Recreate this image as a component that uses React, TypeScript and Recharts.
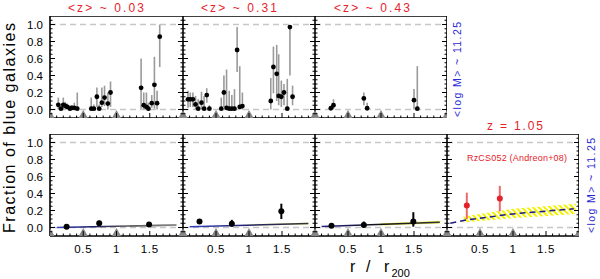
import React from 'react';
import { ComposedChart, XAxis, YAxis, Scatter, ErrorBar, Line, Area, ReferenceLine } from 'recharts';

// ---- values ----
// top row: <z> ~ 0.03
const r003 = [0.125, 0.165, 0.2, 0.23, 0.26, 0.3, 0.33, 0.365, 0.41, 0.62, 0.66, 0.705, 0.74, 0.78, 0.82, 0.87, 0.91, 1.37, 1.41, 1.45, 1.48, 1.53, 1.57, 1.61, 1.65];
const f003 = [0.055, 0.01, 0.055, 0.043, 0.03, 0.01, 0.02, 0.02, 0.01, 0.01, 0.01, 0.15, 0.01, 0.08, 0.14, 0.07, 0.2, 0.255, 0.05, 0.03, 0.01, 0.075, 0.29, 0.075, 0.857];
const lo003 = [0, 0, 0, 0, 0, 0, 0, 0, 0, 0, 0, 0.03, 0, 0.03, 0.04, 0, 0.03, 0.01, 0, 0, 0, 0.02, 0.01, 0, 0.5];
const hi003 = [0.14, 0.06, 0.14, 0.09, 0.07, 0.05, 0.05, 0.08, 0.2, 0.14, 0.06, 0.26, 0.06, 0.26, 0.28, 0.2, 0.33, 0.6, 0.2, 0.2, 0.08, 0.17, 0.62, 0.22, 1.0];

// top row: <z> ~ 0.31
const r031 = [0.076, 0.11, 0.15, 0.19, 0.23, 0.28, 0.32, 0.36, 0.4, 0.58, 0.62, 0.66, 0.7, 0.74, 0.78, 0.82, 0.86, 0.9, 1.33, 1.37, 1.42, 1.45, 1.49, 1.53, 1.58, 1.62, 1.66];
const f031 = [0.12, 0.12, 0.12, 0.06, 0.01, 0.08, 0.01, 0.17, 0.01, 0.01, 0.2, 0.02, 0.01, 0.01, 0.01, 0.7, 0.03, 0.04, 0.1, 0.5, 0.42, 0.16, 0.15, 0.2, 0.01, 0.97, 0.15];
const lo031 = [0.02, 0.03, 0.03, 0, 0, 0, 0, 0.08, 0, 0, 0.03, 0, 0, 0, 0, 0.44, 0, 0, 0, 0.19, 0.1, 0.05, 0.03, 0.05, 0, 0.4, 0.05];
const hi031 = [0.22, 0.2, 0.2, 0.16, 0.12, 0.21, 0.16, 0.25, 0.05, 0.14, 0.4, 0.47, 0.22, 0.17, 0.24, 0.97, 0.51, 0.2, 0.37, 0.74, 0.76, 0.65, 0.34, 0.3, 0.36, 0.97, 0.28];

// top row: <z> ~ 0.43
const r043 = [0.24, 0.28, 0.74, 0.79, 1.5, 1.55];
const f043 = [0.015, 0.05, 0.13, 0.015, 0.11, 0.01];
const lo043 = [0, 0, 0.05, 0, 0, 0];
const hi043 = [0.04, 0.12, 0.2, 0.08, 0.24, 0.51];

// bottom row, binned points
const rBin = [0.25, 0.74, 1.49];
const fBin1 = [0.01, 0.05, 0.035];
const loBin1 = [0, 0.02, 0.015];
const hiBin1 = [0.02, 0.08, 0.055];
const fBin2 = [0.07, 0.045, 0.19];
const loBin2 = [0.05, 0.01, 0.1];
const hiBin2 = [0.09, 0.09, 0.28];
const fBin3 = [0.02, 0.03, 0.07];
const loBin3 = [0.005, 0, 0.01];
const hiBin3 = [0.035, 0.07, 0.18];

// RzCS052 (Andreon+08)
const rRz = [0.3, 0.8];
const fRz = [0.26, 0.34];
const loRz = [0.1, 0.19];
const hiRz = [0.41, 0.49];

// model curves and their bands
const mR1 = [0.1, 1.9];
const mF1 = [0.0, 0.028];
const bR1 = [1.2, 1.9];
const bLo1 = [0.007, 0.018];
const bHi1 = [0.027, 0.038];

const mR2 = [0.1, 1.9];
const mF2 = [0.01, 0.047];
const bR2 = [1.0, 1.9];
const bLo2 = [0.018, 0.035];
const bHi2 = [0.039, 0.06];

const mR3 = [0.1, 1.89];
const mF3 = [0.012, 0.063];
const bR3 = [1.0, 1.9];
const bLo3 = [0.025, 0.048];
const bHi3 = [0.05, 0.078];

const mR4 = [0.05, 0.3, 1.0, 1.92];
const mF4 = [0.05, 0.09, 0.16, 0.22];
const bR4 = [0.25, 1.0, 1.95];
const bLo4 = [0.06, 0.11, 0.16];
const bHi4 = [0.13, 0.22, 0.28];

// grey markers on the r axis
const markerR = [0, 0.5, 1, 2];

const yTickLabels = [0, 0.2, 0.4, 0.6, 0.8, 1.0];
const xTickLabels = [0.5, 1, 1.5];

// ---- layout ----
const FONT = '"Liberation Sans", Arial, Helvetica, sans-serif';
const RED = '#e3232c';
const BLUE = '#2a2ad6';
const COL_X = [50, 183, 315, 447];
const COL_W = [133, 132, 132, 132];
const ROW_Y = [16, 134];
const PANEL_H = 102;
const Y_DOMAIN: [number, number] = [-0.1, 1.1];
const X_DOMAIN: [number, number] = [0, 2];

const yEdgeTicks = Array.from({ length: 23 }, (_, i) => Math.round((i - 1) * 5) / 100);
const xEdgeTicks = Array.from({ length: 19 }, (_, i) => (i + 1) / 10);

const toPts = (r: number[], f: number[], lo: number[], hi: number[]) =>
  r.map((x, i) => ({ x, y: f[i], err: [f[i] - lo[i], hi[i] - f[i]] }));
const toLine = (r: number[], f: number[]) => r.map((x, i) => ({ x, y: f[i] }));
const toBand = (r: number[], lo: number[], hi: number[]) => r.map((x, i) => ({ x, band: [lo[i], hi[i]] }));

const has = (list: number[], v: number) => list.some((m) => Math.abs(m - v) < 1e-6);

// inward tick marks on the frame; bottom row also writes the r labels
const edgeTick = (side: string, majors: number[], labels: number[] = []) => (p: any) => {
  const v = p.payload ? p.payload.value : 0;
  const len = has(majors, v) ? 5 : 2.5;
  const dx = side === 'left' ? len : side === 'right' ? -len : 0;
  const dy = side === 'bottom' ? -len : side === 'top' ? len : 0;
  return (
    <g>
      <line x1={p.x} y1={p.y} x2={p.x + dx} y2={p.y + dy} stroke="#000" strokeWidth={1} />
      {has(labels, v) && (
        <text x={p.x} y={p.y + 17} textAnchor="middle" fontSize={11.5} fill="#000" fontFamily={FONT} letterSpacing={0.6}>
          {String(v)}
        </text>
      )}
    </g>
  );
};

const dot = (r: number, fill: string) => (p: any) => <circle cx={p.cx} cy={p.cy} r={r} fill={fill} />;
const triangle = (p: any) => (
  <polygon points={`${p.cx - 4.5},${p.cy} ${p.cx + 4.5},${p.cy} ${p.cx},${p.cy - 8}`} fill="#858585" />
);

const frameLine = { stroke: '#000', strokeWidth: 1.6 };

function Panel({ col, row, yLabels, xLabels, children }: any) {
  const ml = yLabels ? 30 : 0;
  const mb = xLabels ? 24 : 0;
  return (
    <div style={{ position: 'absolute', left: COL_X[col] - ml, top: ROW_Y[row] }}>
      <ComposedChart width={COL_W[col] + ml} height={PANEL_H + mb} margin={{ top: 0, right: 0, bottom: mb, left: 0 }}>
        {yLabels && (
          <YAxis
            yAxisId="lab"
            width={30}
            type="number"
            domain={Y_DOMAIN}
            allowDataOverflow
            ticks={yTickLabels}
            interval={0}
            tickFormatter={(v: number) => v.toFixed(1)}
            axisLine={false}
            tickLine={false}
            tickSize={5}
            tickMargin={2}
            tick={{ fontSize: 11.5, fill: '#000', fontFamily: FONT }}
          />
        )}
        <XAxis xAxisId="xb" dataKey="x" type="number" domain={X_DOMAIN} allowDataOverflow mirror height={1}
          ticks={xEdgeTicks} interval={0} tickSize={0} tickMargin={0} tickLine={false}
          tick={edgeTick('bottom', xTickLabels, xLabels ? xTickLabels : [])} axisLine={frameLine} />
        <XAxis xAxisId="xt" orientation="top" type="number" domain={X_DOMAIN} allowDataOverflow mirror height={1}
          ticks={xEdgeTicks} interval={0} tickSize={0} tickMargin={0} tickLine={false}
          tick={edgeTick('top', xTickLabels)} axisLine={frameLine} />
        <YAxis yAxisId="yl" type="number" domain={Y_DOMAIN} allowDataOverflow mirror width={1}
          ticks={yEdgeTicks} interval={0} tickSize={0} tickMargin={0} tickLine={false}
          tick={edgeTick('left', yTickLabels)} axisLine={frameLine} />
        <YAxis yAxisId="yr" orientation="right" type="number" domain={Y_DOMAIN} allowDataOverflow mirror width={1}
          ticks={yEdgeTicks} interval={0} tickSize={0} tickMargin={0} tickLine={false}
          tick={edgeTick('right', yTickLabels)} axisLine={frameLine} />
        <ReferenceLine y={1} xAxisId="xb" yAxisId="yl" stroke="#c6c6c6" strokeDasharray="6 4" strokeWidth={1.5} />
        <ReferenceLine y={0} xAxisId="xb" yAxisId="yl" stroke="#c6c6c6" strokeDasharray="6 4" strokeWidth={1.5} />
        {children}
        <Scatter
          data={markerR.map((x) => ({ x, y: Y_DOMAIN[0] }))}
          dataKey="y"
          xAxisId="xb"
          yAxisId="yl"
          shape={triangle}
          isAnimationActive={false}
        />
      </ComposedChart>
    </div>
  );
}

const topSeries = (pts: any[]) => [
  <Scatter key="p" data={pts} dataKey="y" xAxisId="xb" yAxisId="yl" shape={dot(2.4, '#000')} isAnimationActive={false}>
    <ErrorBar dataKey="err" direction="y" width={0} stroke="#9a9a9a" strokeWidth={1.6} />
  </Scatter>,
];

const bottomSeries = (
  band: any[],
  bandFill: string,
  line: any[],
  lineStroke: string,
  pts: any[],
  color: string,
  errColor: string,
  dashed = false,
) => [
  <Area key="b" data={band} dataKey="band" type="linear" xAxisId="xb" yAxisId="yl" stroke="none"
    fill={bandFill} fillOpacity={1} isAnimationActive={false} />,
  <Line key="l" data={line} dataKey="y" type="linear" xAxisId="xb" yAxisId="yl" stroke={lineStroke}
    strokeWidth={1.5} strokeDasharray={dashed ? '6 4' : undefined} dot={false} activeDot={false} isAnimationActive={false} />,
  <Scatter key="p" data={pts} dataKey="y" xAxisId="xb" yAxisId="yl" shape={dot(3, color)} isAnimationActive={false}>
    <ErrorBar dataKey="err" direction="y" width={0} stroke={errColor} strokeWidth={2} />
  </Scatter>,
];

const txt = { fontFamily: FONT };

export default function App() {
  return (
    <div style={{ position: 'absolute', left: 0, top: 0, width: 600, height: 279, background: '#fff', fontFamily: FONT }}>
      <svg width={0} height={0} style={{ position: 'absolute' }}>
        <defs>
          <linearGradient id="g1" x1="0" y1="0" x2="1" y2="0">
            <stop offset="0" stopColor="#3344c0" />
            <stop offset="0.3" stopColor="#1c1c66" />
            <stop offset="0.6" stopColor="#555" />
            <stop offset="1" stopColor="#888" />
          </linearGradient>
          <linearGradient id="g2" x1="0" y1="0" x2="1" y2="0">
            <stop offset="0" stopColor="#3344c0" />
            <stop offset="0.5" stopColor="#22226a" />
            <stop offset="1" stopColor="#333" />
          </linearGradient>
          <linearGradient id="g3" x1="0" y1="0" x2="1" y2="0">
            <stop offset="0" stopColor="#22228a" />
            <stop offset="0.5" stopColor="#111" />
            <stop offset="1" stopColor="#333" />
          </linearGradient>
          <pattern id="hatch" width="4" height="4" patternUnits="userSpaceOnUse" patternTransform="rotate(-45)">
            <line x1="1" y1="0" x2="1" y2="4" stroke="#f2f200" strokeWidth="2" />
          </pattern>
        </defs>
      </svg>

      <Panel col={0} row={0} yLabels>{topSeries(toPts(r003, f003, lo003, hi003))}</Panel>
      <Panel col={1} row={0}>{topSeries(toPts(r031, f031, lo031, hi031))}</Panel>
      <Panel col={2} row={0}>{topSeries(toPts(r043, f043, lo043, hi043))}</Panel>

      <Panel col={0} row={1} yLabels xLabels>
        {bottomSeries(toBand(bR1, bLo1, bHi1), '#9a9a9a', toLine(mR1, mF1), 'url(#g1)', toPts(rBin, fBin1, loBin1, hiBin1), '#000', '#000')}
      </Panel>
      <Panel col={1} row={1} xLabels>
        {bottomSeries(toBand(bR2, bLo2, bHi2), '#f3f3a6', toLine(mR2, mF2), 'url(#g2)', toPts(rBin, fBin2, loBin2, hiBin2), '#000', '#000')}
      </Panel>
      <Panel col={2} row={1} xLabels>
        {bottomSeries(toBand(bR3, bLo3, bHi3), '#eeee60', toLine(mR3, mF3), 'url(#g3)', toPts(rBin, fBin3, loBin3, hiBin3), '#000', '#000')}
      </Panel>
      <Panel col={3} row={1} xLabels>
        {bottomSeries(toBand(bR4, bLo4, bHi4), 'url(#hatch)', toLine(mR4, mF4), '#1a1a80', toPts(rRz, fRz, loRz, hiRz), RED, '#ee6a6a', true)}
      </Panel>

      <svg width={600} height={279} style={{ position: 'absolute', left: 0, top: 0, pointerEvents: 'none' }}>
        <text x={106} y={12} textAnchor="middle" fontSize={12} fill={RED} textLength={76} style={txt}>{'<z> ~ 0.03'}</text>
        <text x={239} y={12} textAnchor="middle" fontSize={12} fill={RED} textLength={76} style={txt}>{'<z> ~ 0.31'}</text>
        <text x={372} y={12} textAnchor="middle" fontSize={12} fill={RED} textLength={76} style={txt}>{'<z> ~ 0.43'}</text>
        <text x={515} y={130} textAnchor="middle" fontSize={12} fill={RED} textLength={56} style={txt}>{'z = 1.05'}</text>
        <text x={517} y={161} textAnchor="middle" fontSize={9} fill={RED} textLength={100} style={txt}>{'RzCS052 (Andreon+08)'}</text>
        <text transform="translate(461,69.5) rotate(-90)" textAnchor="middle" fontSize={10.5} fill={BLUE} textLength={95} style={txt}>{'<log M> ~ 11.25'}</text>
        <text transform="translate(595,185.5) rotate(-90)" textAnchor="middle" fontSize={10.5} fill={BLUE} textLength={95} style={txt}>{'<log M> ~ 11.25'}</text>
        <text transform="translate(15,128) rotate(-90)" textAnchor="middle" fontSize={16} fill="#000" textLength={210} style={txt}>{'Fraction of blue galaxies'}</text>
        <text x={350} y={271.5} fontSize={16} fill="#000" style={txt}>r</text>
        <text x={366} y={271.5} fontSize={16} fill="#000" style={txt}>/</text>
        <text x={384} y={271.5} fontSize={16} fill="#000" style={txt}>r</text>
        <text x={391.5} y={277} fontSize={11} fill="#000" style={txt}>200</text>
      </svg>
    </div>
  );
}
